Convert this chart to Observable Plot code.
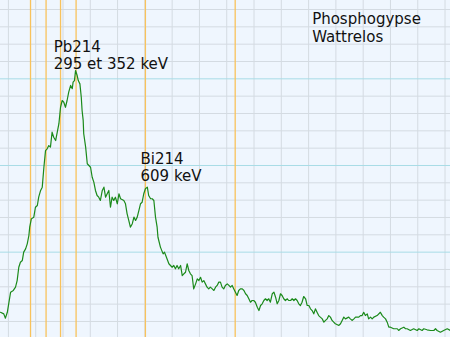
<!DOCTYPE html>
<html>
<head>
<meta charset="utf-8">
<script src="https://cdn.jsdelivr.net/npm/d3@7"></script>
<script src="https://cdn.jsdelivr.net/npm/@observablehq/plot@0.6"></script>
<style>
  html, body { margin: 0; padding: 0; background: #eff6fe; }
  #chart svg { display: block; }
</style>
</head>
<body>
<div id="chart"></div>
<script>
// Energy (keV) and counts
const energy = [71,83,89,96,108,118,126,132,138,144,151,156,163,169,175,178,184,193,199,206,211,218,224,230,236,242,248,254,260,266,273,279,285,291,297,303,309,315,321,328,334,337,342,346,352,356,362,367,370,374,376,383,389,395,401,407,413,419,425,431,437,444,450,456,462,468,474,480,486,492,499,505,511,523,529,535,541,547,554,560,566,572,578,584,590,596,602,609,614,621,627,633,639,645,648,657,667,672,679,688,694,700,706,712,718,724,731,737,743,749,755,761,767,773,779,786,792,798,804,810,816,822,828,834,840,847,853,859,865,871,877,883,889,895,902,908,914,920,926,932,938,944,950,957,963,969,975,981,987,993,999,1005,1012,1018,1024,1030,1036,1042,1048,1054,1060,1067,1073,1079,1085,1091,1097,1103,1109,1115,1122,1127,1134,1140,1146,1152,1158,1164,1170,1176,1182,1189,1195,1201,1207,1213,1219,1225,1231,1237,1243,1250,1256,1262,1268,1274,1280,1286,1292,1298,1311,1317,1323,1329,1335,1347,1353,1360,1366,1372,1384,1390,1396,1402,1408,1415,1420,1427,1433,1439,1451,1463,1470,1475,1482,1488,1494,1500,1512,1525,1530,1537,1549,1555,1561,1573,1585,1598,1604,1616,1622,1634,1647,1659,1665,1671,1683,1695,1708,1720];
const counts = [15.3,14.4,11.9,15.3,26.9,27.9,29.8,33.6,41.3,44.2,45.2,50.0,51.9,54.8,59.6,64.4,69.2,70.2,75.9,76.9,81.7,85.6,87.5,99.0,108.6,109.6,111.5,110.6,119.2,116.3,114.4,119.2,124.1,133.6,137.5,136.5,133.6,137.5,142.3,146.2,144.3,148.1,149.0,154.8,151.9,149.0,147.1,139.4,131.7,126.0,118.3,110.6,101.0,100.0,99.0,93.2,90.4,85.6,82.7,81.7,79.8,85.6,87.5,81.7,83.7,85.6,75.9,81.7,79.8,81.7,77.9,83.7,80.8,79.8,77.9,72.1,68.3,64.4,66.4,70.2,68.3,70.2,74.0,77.9,78.8,83.7,86.6,87.5,82.7,80.8,80.8,79.8,70.2,64.4,58.6,52.9,49.0,50.0,47.1,43.3,42.3,41.3,42.3,40.4,42.3,40.4,42.3,36.5,37.5,38.4,43.3,39.4,37.5,36.5,28.8,31.7,34.6,33.6,35.5,32.7,33.6,31.7,29.8,28.8,29.8,28.8,27.9,29.8,30.8,32.7,32.7,29.8,28.8,30.8,31.7,30.8,29.8,30.8,28.8,26.9,25.0,27.9,28.8,28.8,27.9,26.0,25.0,23.1,21.1,22.1,22.1,21.1,18.2,16.3,19.2,20.2,22.1,23.1,22.1,23.1,21.1,26.0,26.9,24.0,20.2,22.1,26.0,25.0,23.1,22.1,23.1,22.1,22.1,23.1,22.1,23.1,22.1,20.2,19.2,21.1,24.4,23.1,19.2,19.2,17.3,16.3,14.4,17.3,15.3,13.4,12.5,11.5,9.6,10.6,11.5,13.4,12.5,10.6,9.6,8.7,7.7,8.7,10.6,12.5,11.5,12.5,11.5,10.6,11.5,12.5,12.5,13.4,13.4,15.3,13.4,14.4,11.5,12.5,11.5,12.5,13.4,15.3,13.4,12.5,11.5,9.6,6.7,6.7,5.8,5.8,4.8,5.8,6.7,5.8,5.8,4.8,5.8,4.8,5.8,4.8,5.8,5.2,4.8,4.8,5.8,4.8,3.8,4.8,5.8,4.8];

// Marker lines (keV)
const markers = [181, 238, 291, 348, 602, 931];

// Grid values
const xGrid = [100,200,300,400,500,600,700,800,900,1000,1100,1200,1300,1400,1500,1600,1700];
const yGrid = [10,20,30,40,60,70,80,90,110,120,130,140,160,170,180,190];
const yMajor = [50,100,150];

// Annotations
const labels = [
  {e: 266, c: 172.7, text: "Pb214\n295 et 352 keV"},
  {e: 584, c: 108.1, text: "Bi214\n609 keV"},
  {e: 1213, c: 188.5, text: "Phosphogypse\nWattrelos"}
];

const spectrum = energy.map((e, i) => ({e, c: counts[i]}));

const chart = Plot.plot({
  width: 450,
  height: 337,
  margin: 0,
  x: {domain: [71, 1720], axis: null},
  y: {domain: [0.75, 195.2], axis: null},
  style: {background: "#eff6fe", fontFamily: "DejaVu Sans, Verdana, sans-serif"},
  marks: [
    Plot.ruleX(xGrid, {stroke: "#d4dbe2", strokeWidth: 1}),
    Plot.ruleY(yGrid, {stroke: "#d4dbe2", strokeWidth: 1}),
    Plot.ruleY(yMajor, {stroke: "#a8dce6", strokeWidth: 1}),
    Plot.ruleX(markers, {stroke: "#f8c25c", strokeWidth: 1.3}),
    Plot.line(spectrum, {x: "e", y: "c", stroke: "#1b8a1b", strokeWidth: 1.2}),
    Plot.text(labels, {x: "e", y: "c", text: "text", textAnchor: "start", lineAnchor: "top", lineHeight: 1.16, fontSize: 15, fill: "#111"})
  ]
});
document.getElementById("chart").appendChild(chart);
</script>
</body>
</html>
